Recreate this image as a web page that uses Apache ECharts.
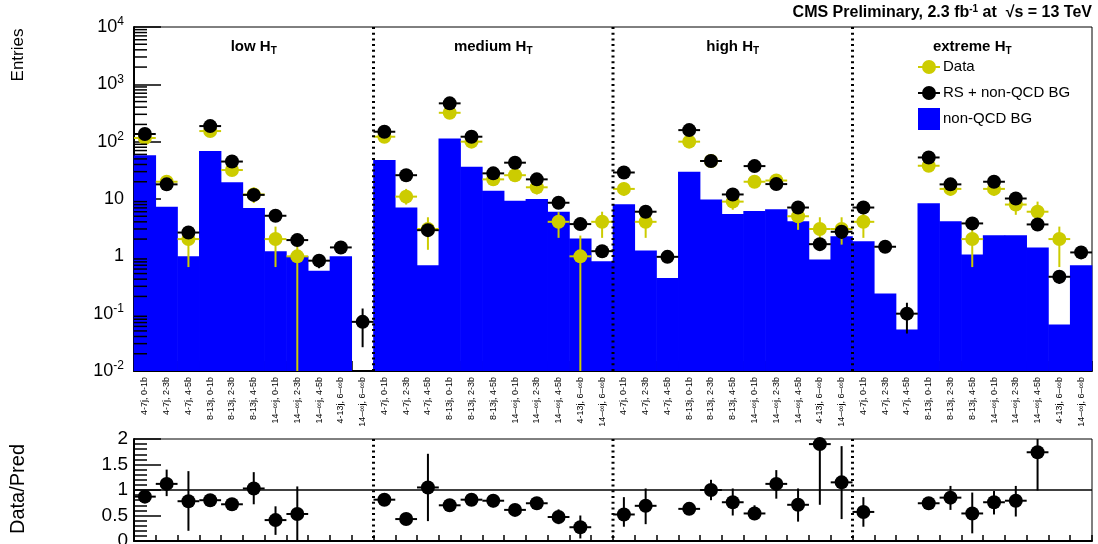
<!DOCTYPE html>
<html><head><meta charset="utf-8">
<script src="https://cdn.jsdelivr.net/npm/echarts@6/dist/echarts.min.js"></script>
<style>html,body{margin:0;padding:0;background:#fff}#c{width:1098px;height:544px}</style>
</head><body><div id="c"></div><script>
// ---------------- data ----------------
const regionBins = ['4-7j, 0-1b','4-7j, 2-3b','4-7j, 4-5b','8-13j, 0-1b','8-13j, 2-3b','8-13j, 4-5b','14–∞j, 0-1b','14–∞j, 2-3b','14–∞j, 4-5b','4-13j, 6–∞b','14–∞j, 6–∞b'];
const regionNames = ['low', 'medium', 'high', 'extreme'];
const categories = [].concat(regionBins, regionBins, regionBins, regionBins);
const regionBoundaries = [11, 22, 33];

// non-QCD background (blue histogram)
const nonQcdBg = [
  58, 7.3, 1.0, 69, 19.5, 7.0, 1.23, 1.0, 0.56, 1.0, 0,
  48, 7.1, 0.70, 114, 36.5, 13.9, 9.3, 10.0, 6.0, 2.05, 0.82,
  8.1, 1.27, 0.42, 29.8, 9.8, 5.5, 6.2, 6.6, 4.1, 0.88, 2.25,
  1.84, 0.225, 0.053, 8.4, 4.1, 1.08, 2.34, 2.34, 1.43, 0.065, 0.70
];
// RS + non-QCD BG (black points)
const rsPlusBg = [
  136, 18, 2.6, 187, 45, 11.8, 5.1, 1.92, 0.84, 1.43, 0.072,
  149, 26, 2.86, 466, 122, 28, 43, 22, 8.6, 3.65, 1.23,
  29, 6.0, 0.98, 159, 46, 12.0, 37.5, 18.2, 7.1, 1.63, 2.68,
  7.1, 1.47, 0.10, 53, 18, 3.75, 20, 10.2, 3.6, 0.44, 1.17
];
const rsErrLow = [
  null, null, 2.2, null, null, null, 4.6, 1.6, 0.62, 1.15, 0.026,
  null, null, 2.4, null, null, null, null, null, 7.8, 3.3, 1.0,
  null, 5.5, 0.85, null, null, null, null, null, 6.3, 1.25, 2.0,
  6.4, 1.3, 0.045, null, null, 3.3, null, null, 3.1, 0.33, 0.95
];
const rsErrHigh = [
  null, null, 3.1, null, null, null, 5.6, 2.3, 1.05, 1.7, 0.123,
  null, null, 3.3, null, null, null, null, null, 9.4, 4.0, 1.5,
  null, 6.5, 1.12, null, null, null, null, null, 7.9, 2.0, 3.4,
  7.8, 1.65, 0.155, null, null, 4.2, null, null, 4.1, 0.56, 1.4
];
// Data (yellow points)
const dataVals = [
  116, 20, 2, 153, 32, 12, 2, 1, null, null, null,
  122, 11, 3, 319, 100, 22, 26, 16, 4, 1, 4,
  15, 4, null, 100, 46, 9, 20, 21, 5, 3, 3,
  4, null, null, 38, 15, 2, 15, 8, 6, 2, null
];
const dataErrLow = [
  null, 16, 0.65, null, 27, 8.5, 0.65, 0, null, null, null,
  null, 8, 1.3, null, null, 17, 21, 12, 2.1, 0, 2.1,
  11.5, 2.1, null, null, null, 6.5, 16, 16, 2.9, 1.6, 1.6,
  2.1, null, null, null, 11.5, 0.65, 11.5, 5.3, 3.5, 0.65, null
];
const dataErrHigh = [
  null, 25, 3.3, null, 38, 16, 3.3, 2.3, null, null, null,
  null, 15, 4.8, null, null, 28, 32, 21, 5.9, 2.3, 6.0,
  19.5, 5.9, null, null, null, 12.5, 25, 26, 7.5, 4.8, 4.8,
  5.9, null, null, null, 19.5, 3.3, 19.5, 11.5, 9.0, 3.3, null
];
// Data / Pred ratio
const ratioVals = [
  0.87, 1.12, 0.78, 0.80, 0.72, 1.03, 0.41, 0.53, null, null, null,
  0.81, 0.43, 1.05, 0.70, 0.81, 0.79, 0.61, 0.74, 0.47, 0.27, null,
  0.52, 0.69, null, 0.63, 1.00, 0.76, 0.54, 1.12, 0.71, 1.90, 1.15,
  0.57, null, null, 0.74, 0.85, 0.54, 0.76, 0.79, 1.74, null, null
];
const ratioErrLow = [
  0.78, 0.88, 0.20, 0.72, 0.62, 0.72, 0.12, 0.00, null, null, null,
  0.73, 0.35, 0.39, 0.64, 0.72, 0.66, 0.52, 0.62, 0.33, 0.05, null,
  0.28, 0.33, null, 0.57, 0.80, 0.50, 0.41, 0.83, 0.38, 0.71, 0.43,
  0.28, null, null, 0.66, 0.61, 0.15, 0.52, 0.48, 0.99, null, null
];
const ratioErrHigh = [
  0.96, 1.40, 1.37, 0.88, 0.82, 1.35, 0.68, 1.07, null, null, null,
  0.89, 0.51, 1.71, 0.77, 0.90, 0.92, 0.70, 0.86, 0.62, 0.50, null,
  0.86, 1.03, null, 0.69, 1.20, 1.03, 0.70, 1.39, 1.03, 2.00, 1.86,
  0.86, null, null, 0.82, 1.08, 0.95, 0.98, 1.08, 2.00, null, null
];
const logTickLabels = { '-2': ['10', '-2'], '-1': ['10', '-1'], '0': ['1', ''], '1': ['10', ''], '2': ['10', '2'], '3': ['10', '3'], '4': ['10', '4'] };
const ratioTickLabels = ['0', '0.5', '1', '1.5', '2'];

// ---------------- styles ----------------
const BLUE = '#0000ff', YEL = '#cccc00', BLK = '#000000';
const FONT = '"Liberation Sans", Arial, Helvetica, sans-serif';

const chart = echarts.init(document.getElementById('c'), null, { renderer: 'canvas' });

function points(vals) { const out = []; vals.forEach((v, i) => { if (v != null) out.push([i, v]); }); return out; }

function errRender(color, lw, lows, highs) {
  return function (params, api) {
    const i = api.value(0), v = api.value(1);
    const cs = params.coordSys;
    const c = api.coord([i, v]);
    const w = api.size([1, 0])[0];
    const children = [{ type: 'line', shape: { x1: c[0] - w / 2, y1: c[1], x2: c[0] + w / 2, y2: c[1] }, style: { stroke: color, lineWidth: lw } }];
    const lo = lows[i], hi = highs[i];
    if (lo != null && hi != null) {
      let yLo = lo > 0 ? api.coord([i, lo])[1] : cs.y + cs.height;
      let yHi = api.coord([i, hi])[1];
      yLo = Math.min(yLo, cs.y + cs.height); yHi = Math.max(yHi, cs.y);
      children.push({ type: 'line', shape: { x1: c[0], y1: yLo, x2: c[0], y2: yHi }, style: { stroke: color, lineWidth: lw } });
    }
    return { type: 'group', children };
  };
}

function dottedRender(params, api) {
  const cs = params.coordSys;
  const i = api.value(0);
  const w = api.size([1, 0])[0];
  const x = api.coord([i, api.value(1)])[0] - w / 2;
  return { type: 'line', shape: { x1: x, y1: cs.y, x2: x, y2: cs.y + cs.height }, style: { stroke: BLK, lineWidth: 3, lineDash: [2, 3.7] } };
}

const minorLogTicks = [];
for (let d = -2; d < 4; d++) for (let k = 2; k <= 9; k++) minorLogTicks.push([0, k * Math.pow(10, d)]);

const markerPath = 'path://M0,0 L0.01,0 L0,0.01 Z M22,22 L21.99,22 L22,21.99 Z M0,10 L22,10 L22,12 L0,12 Z M11,4 A7,7 0 1,1 10.99,4 Z';

const option = {
  animation: false,
  backgroundColor: '#fff',
  textStyle: { fontFamily: FONT, color: BLK },
  grid: [
    { left: 134, right: 6, top: 27, height: 344, show: true, borderColor: BLK, borderWidth: 1, backgroundColor: 'transparent', outerBoundsMode: 'none', containLabel: false },
    { left: 134, right: 6, top: 439, height: 102, show: true, borderColor: BLK, borderWidth: 1, backgroundColor: 'transparent', outerBoundsMode: 'none', containLabel: false }
  ],
  legend: {
    orient: 'vertical', left: 918, top: 56, padding: 0, itemGap: 4,
    itemWidth: 22, itemHeight: 22,
    textStyle: { fontSize: 15, fontFamily: FONT, color: BLK, padding: [0, 0, 0, -2] },
    selectedMode: false,
    data: [
      { name: 'Data', icon: markerPath },
      { name: 'RS + non-QCD BG', icon: markerPath },
      { name: 'non-QCD BG', icon: 'rect' }
    ]
  },
  xAxis: [
    {
      type: 'category', gridIndex: 0, data: categories, boundaryGap: true,
      axisLine: { lineStyle: { color: BLK, width: 2 } },
      axisTick: { show: true, inside: true, length: 10, interval: 0, lineStyle: { color: BLK, width: 1.5 } },
      axisLabel: { interval: 0, rotate: 90, fontSize: 9, margin: 6, color: BLK, fontFamily: FONT },
      splitLine: { show: false }
    },
    {
      type: 'category', gridIndex: 1, data: categories, boundaryGap: true,
      axisLine: { lineStyle: { color: BLK, width: 2 } },
      axisTick: { show: true, inside: true, length: 6, interval: 0, lineStyle: { color: BLK, width: 1.5 } },
      axisLabel: { show: false },
      splitLine: { show: false }
    }
  ],
  yAxis: [
    {
      type: 'log', logBase: 10, gridIndex: 0, min: 0.01, max: 10000, splitNumber: 6,
      axisLine: { show: true, lineStyle: { color: BLK, width: 2 } },
      axisTick: { show: true, inside: true, length: 27, lineStyle: { color: BLK, width: 1.5 } },
      splitLine: { show: false },
      axisLabel: {
        margin: 10, color: BLK, fontFamily: FONT,
        formatter: function (v) {
          const e = Math.round(Math.log10(v));
          const t = logTickLabels[String(e)];
          if (!t) return '';
          return '{b|' + t[0] + '}' + (t[1] ? '{s|' + t[1] + '}' : '');
        },
        rich: {
          b: { fontSize: 18, fontFamily: FONT, color: BLK },
          s: { fontSize: 12, fontFamily: FONT, color: BLK, padding: [0, 0, 10, 0] }
        }
      }
    },
    {
      type: 'value', gridIndex: 1, min: 0, max: 2, interval: 0.5,
      axisLine: { show: true, lineStyle: { color: BLK, width: 2 } },
      axisTick: { show: true, inside: true, length: 27, lineStyle: { color: BLK, width: 1.5 } },
      minorTick: { show: true, splitNumber: 5, length: 13, lineStyle: { color: BLK, width: 1.5 } },
      splitLine: { show: false },
      axisLabel: { margin: 6, fontSize: 19, color: BLK, fontFamily: FONT, formatter: v => ratioTickLabels[Math.round(v * 2)] }
    }
  ],
  graphic: [
    {
      type: 'text', right: 6, top: 4,
      style: {
        text: '{b|CMS Preliminary, 2.3 fb}{s|-1}{b| at  √s = 13 TeV}',
        rich: {
          b: { fontSize: 16, fontWeight: 'bold', fontFamily: FONT, fill: BLK },
          s: { fontSize: 10, fontWeight: 'bold', fontFamily: FONT, fill: BLK, padding: [0, 0, 8, 0] }
        }
      }
    },
    { type: 'text', x: 18, y: 55, rotation: Math.PI / 2, style: { text: 'Entries', fontSize: 17, fontFamily: FONT, fill: BLK, align: 'center', verticalAlign: 'middle' } },
    { type: 'text', x: 18, y: 489, rotation: Math.PI / 2, style: { text: 'Data/Pred', fontSize: 20, fontFamily: FONT, fill: BLK, align: 'center', verticalAlign: 'middle' } }
  ],
  series: [
    {
      type: 'custom', name: 'non-QCD BG', xAxisIndex: 0, yAxisIndex: 0, z: 1,
      itemStyle: { color: BLUE },
      data: points(nonQcdBg).filter(d => d[1] > 0),
      renderItem: function (params, api) {
        const i = api.value(0), v = api.value(1);
        const cs = params.coordSys;
        const top = api.coord([i, v]);
        const w = api.size([1, 0])[0];
        const bottom = cs.y + cs.height;
        return { type: 'rect', shape: { x: top[0] - w / 2 - 0.3, y: top[1], width: w + 0.6, height: bottom - top[1] }, style: { fill: BLUE } };
      }
    },
    {
      type: 'custom', name: 'minorTicks', xAxisIndex: 0, yAxisIndex: 0, z: 6, silent: true,
      data: minorLogTicks,
      renderItem: function (params, api) {
        const cs = params.coordSys;
        const y = api.coord([0, api.value(1)])[1];
        return { type: 'line', shape: { x1: cs.x, y1: y, x2: cs.x + 13, y2: y }, style: { stroke: BLK, lineWidth: 1.5 } };
      }
    },
    {
      type: 'custom', name: 'sepMain', xAxisIndex: 0, yAxisIndex: 0, z: 6, silent: true,
      data: regionBoundaries.map(b => [b, 1]), renderItem: dottedRender
    },
    {
      type: 'custom', name: 'regionTitles', xAxisIndex: 0, yAxisIndex: 0, z: 6, silent: true,
      data: regionNames.map((n, k) => [5 + 11 * k, 1]),
      renderItem: function (params, api) {
        const cs = params.coordSys;
        const x = api.coord([api.value(0), 1])[0];
        return {
          type: 'text', x: x, y: cs.y + 20,
          style: {
            text: '{a|' + regionNames[params.dataIndex] + ' H}{t|T}', align: 'center', verticalAlign: 'middle',
            rich: {
              a: { fontSize: 15, fontWeight: 'bold', fontFamily: FONT, fill: BLK },
              t: { fontSize: 10, fontWeight: 'bold', fontFamily: FONT, fill: BLK, padding: [9, 0, 0, 0] }
            }
          }
        };
      }
    },
    {
      type: 'custom', name: 'dataErr', xAxisIndex: 0, yAxisIndex: 0, z: 2, silent: true,
      data: points(dataVals), renderItem: errRender(YEL, 2, dataErrLow, dataErrHigh)
    },
    {
      type: 'scatter', name: 'Data', xAxisIndex: 0, yAxisIndex: 0, z: 3,
      data: points(dataVals), symbol: 'circle', symbolSize: 14, itemStyle: { color: YEL, opacity: 1 }
    },
    {
      type: 'custom', name: 'rsErr', xAxisIndex: 0, yAxisIndex: 0, z: 4, silent: true,
      data: points(rsPlusBg), renderItem: errRender(BLK, 2, rsErrLow, rsErrHigh)
    },
    {
      type: 'scatter', name: 'RS + non-QCD BG', xAxisIndex: 0, yAxisIndex: 0, z: 5,
      data: points(rsPlusBg), symbol: 'circle', symbolSize: 14, itemStyle: { color: BLK, opacity: 1 }
    },
    {
      type: 'custom', name: 'sepRatio', xAxisIndex: 1, yAxisIndex: 1, z: 6, silent: true,
      data: regionBoundaries.map(b => [b, 1]), renderItem: dottedRender
    },
    {
      type: 'custom', name: 'ratioErr', xAxisIndex: 1, yAxisIndex: 1, z: 4, silent: true,
      data: points(ratioVals), renderItem: errRender(BLK, 2, ratioErrLow, ratioErrHigh),
      markLine: { silent: true, symbol: 'none', label: { show: false }, lineStyle: { color: BLK, width: 1.5, type: 'solid' }, data: [{ yAxis: 1 }] }
    },
    {
      type: 'scatter', name: 'ratio', xAxisIndex: 1, yAxisIndex: 1, z: 5,
      data: points(ratioVals), symbol: 'circle', symbolSize: 14, itemStyle: { color: BLK, opacity: 1 }
    }
  ]
};
chart.setOption(option);
</script></body></html>
